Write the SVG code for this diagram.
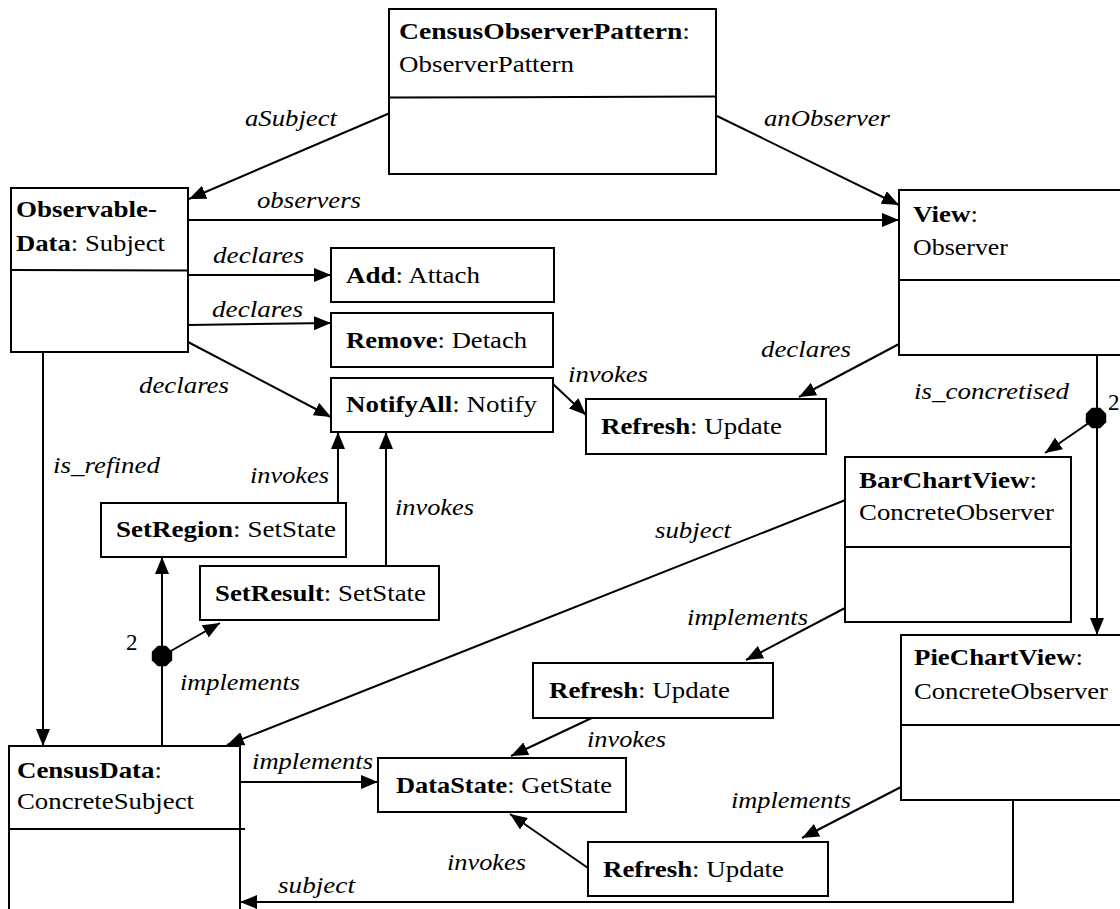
<svg xmlns="http://www.w3.org/2000/svg" xmlns:xlink="http://www.w3.org/1999/xlink" width="1120" height="909" viewBox="0 0 1120 909">
<style>
  text { font-family: Liberation Serif, Times New Roman, Times, DejaVu Serif, serif; font-size: 23px; fill: #000; }
  .b { font-weight: bold; }
  .lbl { font-style: italic; }
  .box { fill: #fff; stroke: #000; stroke-width: 2; }
  .ln { fill: none; stroke: #000; stroke-width: 2; }
  .arr { fill: none; stroke: #000; stroke-width: 2; marker-end: url(#ah); }
</style>
<defs>
  <marker id="ah" markerUnits="userSpaceOnUse" markerWidth="18" markerHeight="14" refX="17" refY="7" orient="auto">
    <path d="M0,0 L17,7 L0,14 z" fill="#000"/>
  </marker>
  <polygon id="oct" points="4.2,-10.2 10.2,-4.2 10.2,4.2 4.2,10.2 -4.2,10.2 -10.2,4.2 -10.2,-4.2 -4.2,-10.2" fill="#000"/>
</defs>
<rect width="1120" height="909" fill="#fff"/>
<g id="connectors">
  <line class="arr" x1="390" y1="113" x2="189" y2="199"/>
  <text class="lbl" x="245" y="126" textLength="92" lengthAdjust="spacingAndGlyphs">aSubject</text>
  <line class="arr" x1="717" y1="116" x2="899" y2="205"/>
  <text class="lbl" x="764" y="126" textLength="126" lengthAdjust="spacingAndGlyphs">anObserver</text>
  <line class="arr" x1="188" y1="220" x2="899" y2="220"/>
  <text class="lbl" x="257" y="208" textLength="104" lengthAdjust="spacingAndGlyphs">observers</text>
  <line class="arr" x1="188" y1="275" x2="331" y2="275"/>
  <text class="lbl" x="213" y="263" textLength="91" lengthAdjust="spacingAndGlyphs">declares</text>
  <line class="arr" x1="188" y1="325" x2="331" y2="323"/>
  <text class="lbl" x="212" y="317" textLength="91" lengthAdjust="spacingAndGlyphs">declares</text>
  <line class="arr" x1="188" y1="342" x2="331" y2="417"/>
  <text class="lbl" x="139" y="393" textLength="90" lengthAdjust="spacingAndGlyphs">declares</text>
  <line class="arr" x1="43" y1="352" x2="43" y2="746"/>
  <text class="lbl" x="53" y="473" textLength="107" lengthAdjust="spacingAndGlyphs">is_refined</text>
  <line class="arr" x1="338" y1="503" x2="338" y2="432"/>
  <text class="lbl" x="250" y="483" textLength="79" lengthAdjust="spacingAndGlyphs">invokes</text>
  <line class="arr" x1="386" y1="566" x2="386" y2="432"/>
  <text class="lbl" x="395" y="515" textLength="79" lengthAdjust="spacingAndGlyphs">invokes</text>
  <line class="arr" x1="553" y1="384" x2="586" y2="415"/>
  <text class="lbl" x="568" y="382" textLength="80" lengthAdjust="spacingAndGlyphs">invokes</text>
  <line class="arr" x1="899" y1="344" x2="799" y2="397"/>
  <text class="lbl" x="761" y="357" textLength="90" lengthAdjust="spacingAndGlyphs">declares</text>
  <line class="arr" x1="1097" y1="355" x2="1097" y2="635"/>
  <line class="arr" x1="1096" y1="418" x2="1045" y2="453"/>
  <use xlink:href="#oct" x="1096" y="418"/>
  <text class="lbl" x="914" y="399" textLength="155" lengthAdjust="spacingAndGlyphs">is_concretised</text>
  <text x="1108" y="410">2</text>
  <line class="arr" x1="848" y1="499" x2="227" y2="745"/>
  <text class="lbl" x="655" y="538" textLength="76" lengthAdjust="spacingAndGlyphs">subject</text>
  <line class="arr" x1="845" y1="608" x2="746" y2="660"/>
  <text class="lbl" x="687" y="625" textLength="121" lengthAdjust="spacingAndGlyphs">implements</text>
  <line class="arr" x1="596" y1="716" x2="511" y2="756"/>
  <text class="lbl" x="587" y="747" textLength="79" lengthAdjust="spacingAndGlyphs">invokes</text>
  <line class="arr" x1="901" y1="787" x2="802" y2="838"/>
  <text class="lbl" x="731" y="808" textLength="120" lengthAdjust="spacingAndGlyphs">implements</text>
  <line class="arr" x1="588" y1="868" x2="510" y2="814"/>
  <text class="lbl" x="447" y="870" textLength="79" lengthAdjust="spacingAndGlyphs">invokes</text>
  <polyline class="arr" points="1013,800 1013,902 240,902"/>
  <text class="lbl" x="278" y="893" textLength="77" lengthAdjust="spacingAndGlyphs">subject</text>
  <line class="arr" x1="240" y1="782" x2="378" y2="782"/>
  <text class="lbl" x="252" y="769" textLength="121" lengthAdjust="spacingAndGlyphs">implements</text>
  <line class="arr" x1="162" y1="746" x2="162" y2="557"/>
  <line class="arr" x1="162" y1="656" x2="220" y2="623"/>
  <use xlink:href="#oct" x="162" y="656"/>
  <text x="126" y="650">2</text>
  <text class="lbl" x="180" y="690" textLength="120" lengthAdjust="spacingAndGlyphs">implements</text>
</g>

<g id="CensusObserverPattern">
  <rect class="box" x="389" y="9" width="327" height="165"/>
  <line class="ln" x1="389" y1="97.5" x2="716" y2="96.5"/>
  <text x="399" y="39" textLength="291" lengthAdjust="spacingAndGlyphs"><tspan class="b">CensusObserverPattern</tspan>:</text>
  <text x="399" y="72" textLength="175" lengthAdjust="spacingAndGlyphs">ObserverPattern</text>
</g>
<g id="ObservableData">
  <rect class="box" x="11" y="188" width="177" height="164"/>
  <line class="ln" x1="11" y1="270" x2="187" y2="270.5"/>
  <text x="16" y="217" textLength="141" lengthAdjust="spacingAndGlyphs"><tspan class="b">Observable-</tspan></text>
  <text x="16" y="251" textLength="149" lengthAdjust="spacingAndGlyphs"><tspan class="b">Data</tspan>: Subject</text>
</g>
<g id="View">
  <rect class="box" x="899" y="190" width="240" height="165"/>
  <line class="ln" x1="899" y1="280" x2="1120" y2="280"/>
  <text x="913" y="222" textLength="65" lengthAdjust="spacingAndGlyphs"><tspan class="b">View</tspan>:</text>
  <text x="913" y="255" textLength="95" lengthAdjust="spacingAndGlyphs">Observer</text>
</g>
<g id="Add">
  <rect class="box" x="331" y="248" width="223" height="54"/>
  <text x="346" y="283" textLength="134" lengthAdjust="spacingAndGlyphs"><tspan class="b">Add</tspan>: Attach</text>
</g>
<g id="Remove">
  <rect class="box" x="331" y="313" width="222" height="54"/>
  <text x="346" y="348" textLength="181" lengthAdjust="spacingAndGlyphs"><tspan class="b">Remove</tspan>: Detach</text>
</g>
<g id="NotifyAll">
  <rect class="box" x="331" y="378" width="222" height="54"/>
  <text x="346" y="412" textLength="191" lengthAdjust="spacingAndGlyphs"><tspan class="b">NotifyAll</tspan>: Notify</text>
</g>
<g id="RefreshTop">
  <rect class="box" x="586" y="399" width="240" height="55"/>
  <text x="601" y="434" textLength="181" lengthAdjust="spacingAndGlyphs"><tspan class="b">Refresh</tspan>: Update</text>
</g>
<g id="SetRegion">
  <rect class="box" x="101" y="503" width="245" height="54"/>
  <text x="116" y="537" textLength="220" lengthAdjust="spacingAndGlyphs"><tspan class="b">SetRegion</tspan>: SetState</text>
</g>
<g id="SetResult">
  <rect class="box" x="200" y="566" width="239" height="54"/>
  <text x="215" y="601" textLength="211" lengthAdjust="spacingAndGlyphs"><tspan class="b">SetResult</tspan>: SetState</text>
</g>
<g id="BarChartView">
  <rect class="box" x="845" y="457" width="226" height="165"/>
  <line class="ln" x1="845" y1="547" x2="1071" y2="547"/>
  <text x="859" y="488" textLength="178" lengthAdjust="spacingAndGlyphs"><tspan class="b">BarChartView</tspan>:</text>
  <text x="859" y="520" textLength="195" lengthAdjust="spacingAndGlyphs">ConcreteObserver</text>
</g>
<g id="PieChartView">
  <rect class="box" x="901" y="635" width="240" height="165"/>
  <line class="ln" x1="901" y1="725" x2="1120" y2="725"/>
  <text x="914" y="665" textLength="169" lengthAdjust="spacingAndGlyphs"><tspan class="b">PieChartView</tspan>:</text>
  <text x="914" y="699" textLength="194" lengthAdjust="spacingAndGlyphs">ConcreteObserver</text>
</g>
<g id="CensusData">
  <rect class="box" x="9" y="746" width="231" height="200"/>
  <line class="ln" x1="9" y1="829" x2="245" y2="829"/>
  <text x="17" y="778" textLength="145" lengthAdjust="spacingAndGlyphs"><tspan class="b">CensusData</tspan>:</text>
  <text x="17" y="809" textLength="177" lengthAdjust="spacingAndGlyphs">ConcreteSubject</text>
</g>
<g id="RefreshMid">
  <rect class="box" x="533" y="663" width="240" height="55"/>
  <text x="549" y="698" textLength="181" lengthAdjust="spacingAndGlyphs"><tspan class="b">Refresh</tspan>: Update</text>
</g>
<g id="DataState">
  <rect class="box" x="378" y="758" width="248" height="54"/>
  <text x="396" y="793" textLength="216" lengthAdjust="spacingAndGlyphs"><tspan class="b">DataState</tspan>: GetState</text>
</g>
<g id="RefreshBottom">
  <rect class="box" x="588" y="842" width="240" height="54"/>
  <text x="603" y="877" textLength="181" lengthAdjust="spacingAndGlyphs"><tspan class="b">Refresh</tspan>: Update</text>
</g>
</svg>
